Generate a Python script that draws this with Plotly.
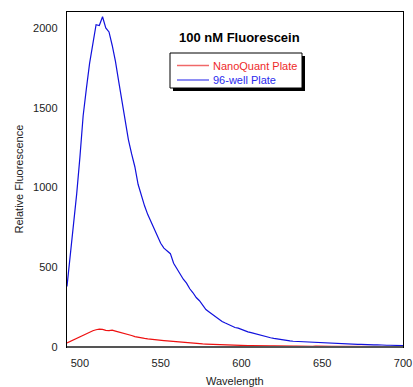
import plotly.graph_objects as go

wavelength = list(range(492, 701, 2))

plate96 = [380, 560, 760, 960, 1190, 1450, 1620, 1780, 1900, 2020,
           2015, 2070, 2000, 1975, 1890, 1790, 1665, 1545, 1400, 1300,
           1210, 1130, 1020, 950, 885, 830, 785, 740, 705, 650,
           620, 600, 585, 525, 490, 460, 425, 400, 365, 340,
           310, 290, 265, 235, 220, 205, 185, 170, 160, 150,
           140, 128, 122, 118, 110, 100, 95, 90, 84, 78,
           74, 68, 62, 58, 54, 50, 47, 44, 41, 38,
           36, 35, 33, 31, 30, 28, 27, 26, 25, 24,
           24, 22, 21, 20, 20, 19, 18, 19, 17, 17,
           16, 17, 15, 14, 14, 13, 14, 12, 12, 11,
           11, 10, 10, 9, 8]

nanoquant = [25, 35, 45, 52, 60, 72, 85, 95, 102, 108,
             112, 110, 104, 103, 106, 100, 95, 88, 82, 78,
             72, 65, 60, 57, 54, 51, 48, 46, 44, 43,
             40, 38, 36, 33, 31, 30, 28, 26, 24, 23,
             22, 20, 19, 18, 17, 16, 15, 14, 13, 12,
             12, 11, 10, 10, 9, 9, 8, 9, 8, 8,
             7, 8, 7, 7, 7, 6, 7, 6, 6, 6,
             5, 6, 5, 5, 5, 5, 4, 5, 4, 4,
             5, 4, 4, 4, 4, 3, 4, 3, 4, 3,
             3, 3, 4, 3, 3, 3, 3, 2, 3, 3,
             2, 3, 2, 2, 2]

series_names = ["NanoQuant Plate", "96-well Plate"]
series_colors = ["#ee1111", "#1111dd"]
legend_line_colors = ["#f06868", "#6868f0"]
legend_text_colors = ["#ee2a2a", "#2a2aee"]
x_ticks = [500, 550, 600, 650, 700]
y_ticks = [0, 500, 1000, 1500, 2000]

font = "Liberation Sans, Arial, sans-serif"

L, R, T, B = 67, 10, 12, 40
W, H = 413, 387
pw, ph = W - L - R, H - T - B


def px(x):
    return (x - L) / pw


def py(y):
    return (H - B - y) / ph


fig = go.Figure()
for vals, name, col in zip([nanoquant, plate96], series_names, series_colors):
    fig.add_trace(go.Scatter(x=wavelength, y=vals, mode="lines",
                             line=dict(color=col, width=1.2), name=name,
                             showlegend=False, hoverinfo="skip"))

shapes = [
    # legend shadow
    dict(type="rect", xref="paper", yref="paper",
         x0=px(173), x1=px(305), y0=py(91), y1=py(56),
         fillcolor="black", line=dict(width=0), layer="above"),
    # legend box
    dict(type="rect", xref="paper", yref="paper",
         x0=px(170), x1=px(302), y0=py(88), y1=py(53),
         fillcolor="white", line=dict(color="black", width=1), layer="above"),
    # grey, heavier bottom axis line
    dict(type="line", xref="paper", yref="paper",
         x0=0, x1=1, y0=0, y1=0,
         line=dict(color="#555555", width=2), layer="above"),
]
annotations = [
    dict(text="<b>100 nM Fluorescein</b>", x=px(240), y=py(37), yanchor="middle",
         xref="paper", yref="paper", showarrow=False,
         font=dict(size=13, color="black")),
    dict(text="Relative Fluorescence", x=px(18), y=0.5, textangle=-90,
         xanchor="center", yanchor="middle",
         xref="paper", yref="paper", showarrow=False,
         font=dict(size=11, color="#222")),
    dict(text="Wavelength", x=0.5, y=py(381), yanchor="middle",
         xref="paper", yref="paper", showarrow=False,
         font=dict(size=11, color="#222")),
]
for i, (name, lc, tc) in enumerate(zip(series_names, legend_line_colors, legend_text_colors)):
    yy = py(65.5 + i * 14.5)
    shapes.append(dict(type="line", xref="paper", yref="paper",
                       x0=px(177), x1=px(209), y0=yy, y1=yy,
                       line=dict(color=lc, width=1.5), layer="above"))
    annotations.append(dict(text=name, x=px(211), y=yy, xanchor="left",
                            yanchor="middle",
                            xref="paper", yref="paper", showarrow=False,
                            font=dict(size=11, color=tc)))

fig.update_layout(
    width=W, height=H,
    margin=dict(l=L, r=R, t=T, b=B),
    paper_bgcolor="white", plot_bgcolor="white",
    font=dict(family=font, size=11, color="#222"),
    showlegend=False,
    hovermode=False,
    xaxis=dict(range=[492, 700], tickvals=x_ticks, showgrid=False, zeroline=False,
               showline=True, linecolor="black", linewidth=1.2, mirror=True,
               ticks="", ticklabelstandoff=6, automargin=False),
    yaxis=dict(range=[0, 2100], tickvals=y_ticks, showgrid=False, zeroline=False,
               showline=True, linecolor="black", linewidth=1.2, mirror=True,
               ticks="", ticklabelstandoff=6, automargin=False),
    annotations=annotations,
    shapes=shapes,
)

fig.write_html("out.html", config={"displayModeBar": False, "staticPlot": True})

# remove the browser's default body margin so the figure sits at the page origin
with open("out.html", "r", encoding="utf-8") as f:
    html = f.read()
html = html.replace("<head>", "<head><style>html,body{margin:0;padding:0;overflow:hidden;}</style>", 1)
with open("out.html", "w", encoding="utf-8") as f:
    f.write(html)
